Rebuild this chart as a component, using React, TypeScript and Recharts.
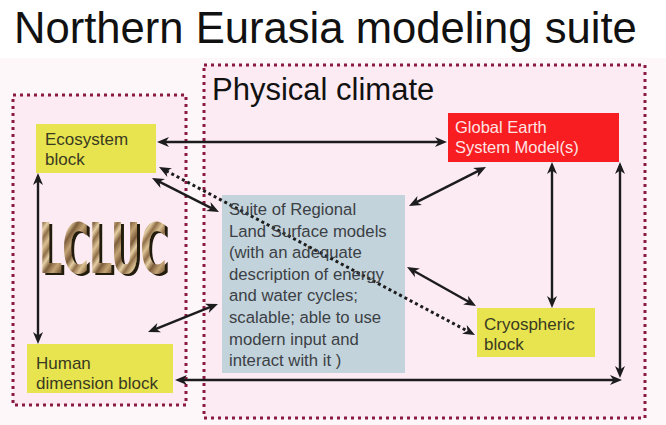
import React from 'react';
import { ScatterChart, Scatter, XAxis, YAxis, ReferenceArea, ReferenceLine } from 'recharts';

const W = 666;
const H = 425;

// dotted frames: LCLUC (left) and Physical climate (right)
const frameX1 = [13, 204];
const frameX2 = [186, 645];
const frameY1 = [95, 65];
const frameY2 = [405, 418];

// filled blocks
const blockKinds = ['yellow', 'yellow', 'red', 'blue', 'yellow'];
const blockX1 = [36, 27, 448, 222, 477];
const blockX2 = [156, 173, 619, 405, 595];
const blockY1 = [124, 344, 113, 195, 308];
const blockY2 = [173, 393, 162, 373, 357];

// arrows, both ends headed
const arrowX1 = [447, 38, 152, 218, 486, 407, 552, 620, 175, 159];
const arrowY1 = [142, 173, 178, 304, 167, 267, 162, 162, 380, 167];
const arrowX2 = [157, 38, 219, 148, 409, 476, 552, 620, 622, 475];
const arrowY2 = [142, 344, 212, 332, 206, 306, 308, 378, 380, 335];
const arrowDotted = [false, false, false, false, false, false, false, false, false, true];

// texts
const labelKinds = ['title', 'frame', 'yellow', 'yellow', 'red', 'blue', 'yellow', 'lcluc'];
const labelLines = [
  ['Northern Eurasia modeling suite'],
  ['Physical climate'],
  ['Ecosystem', 'block'],
  ['Human', 'dimension block'],
  ['Global Earth', 'System Model(s)'],
  [
    'Suite of Regional',
    'Land Surface models',
    '(with an adequate',
    'description of energy',
    'and water cycles;',
    'scalable; able to use',
    'modern input and',
    'interact with it )',
  ],
  ['Cryospheric', 'block'],
  ['LCLUC'],
];
const labelX = [14, 212, 45, 36, 455, 229, 484, 39];
const labelY = [43, 100, 145, 369, 133, 215, 330, 273];

const FONT = '"Liberation Sans", Arial, Helvetica, sans-serif';

const blockFill: Record<string, string> = {
  yellow: '#e7e44f',
  red: '#f81d20',
  blue: '#c2d3dc',
};

const textStyle: Record<string, { size: number; lh: number; color: string }> = {
  title: { size: 43.6, lh: 0, color: '#111' },
  frame: { size: 31, lh: 0, color: '#111' },
  yellow: { size: 17, lh: 20, color: '#3a3a22' },
  red: { size: 16.5, lh: 20, color: '#ffe4e4' },
  blue: { size: 16.7, lh: 21.6, color: '#3c3f44' },
};

const labels = labelLines.map((lines, i) => ({
  x: labelX[i],
  y: labelY[i],
  lines,
  kind: labelKinds[i],
}));

function arrowHead(tx: number, ty: number, ux: number, uy: number, color: string) {
  const L = 12;
  const hw = 5;
  const notch = 3.5;
  const bx = tx - ux * L;
  const by = ty - uy * L;
  const nx = -uy;
  const ny = ux;
  const mx = tx - ux * (L - notch);
  const my = ty - uy * (L - notch);
  const pts = [
    [tx, ty],
    [bx + nx * hw, by + ny * hw],
    [mx, my],
    [bx - nx * hw, by - ny * hw],
  ]
    .map((p) => p.join(','))
    .join(' ');
  return <polygon points={pts} fill={color} />;
}

function Arrow(props: any) {
  const { x1, y1, x2, y2, dotted } = props;
  const dx = x2 - x1;
  const dy = y2 - y1;
  const len = Math.hypot(dx, dy) || 1;
  const ux = dx / len;
  const uy = dy / len;
  const cut = 8;
  const color = '#1c1c1c';
  return (
    <g>
      <line
        x1={x1 + ux * cut}
        y1={y1 + uy * cut}
        x2={x2 - ux * cut}
        y2={y2 - uy * cut}
        stroke={color}
        strokeWidth={dotted ? 3 : 2.4}
        strokeDasharray={dotted ? '3 3' : undefined}
      />
      {arrowHead(x1, y1, -ux, -uy, color)}
      {arrowHead(x2, y2, ux, uy, color)}
    </g>
  );
}

function Label(props: any) {
  const { cx, cy, payload } = props;
  if (payload.kind === 'lcluc') {
    return (
      <g>
        <defs>
          <linearGradient id="wood" x1="0" y1="0" x2="18" y2="12" gradientUnits="userSpaceOnUse" spreadMethod="reflect">
            <stop offset="0" stopColor="#dcc193" />
            <stop offset="0.25" stopColor="#8f6e48" />
            <stop offset="0.45" stopColor="#e6cfa4" />
            <stop offset="0.7" stopColor="#7c5c3a" />
            <stop offset="1" stopColor="#c4a475" />
          </linearGradient>
          <filter id="lshadow" x="-10%" y="-10%" width="130%" height="130%">
            <feOffset in="SourceAlpha" dx="3" dy="2" result="off" />
            <feFlood floodColor="#241a10" />
            <feComposite in2="off" operator="in" result="sh" />
            <feMerge>
              <feMergeNode in="sh" />
              <feMergeNode in="SourceGraphic" />
            </feMerge>
          </filter>
        </defs>
        <text
          x={cx}
          y={cy}
          fontFamily='"DejaVu Sans Condensed", "DejaVu Sans", sans-serif'
          fontWeight="bold"
          fontSize={70}
          textLength={128}
          lengthAdjust="spacingAndGlyphs"
          fill="url(#wood)"
          filter="url(#lshadow)"
        >
          {payload.lines[0]}
        </text>
      </g>
    );
  }
  const st = textStyle[payload.kind];
  return (
    <text x={cx} y={cy} fontFamily={FONT} fontSize={st.size} fill={st.color}>
      {payload.lines.map((l: string, i: number) => (
        <tspan key={i} x={cx} dy={i ? st.lh : 0}>
          {l}
        </tspan>
      ))}
    </text>
  );
}

export default function App() {
  return (
    <div style={{ position: 'absolute', left: 0, top: 0 }}>
      <ScatterChart width={W} height={H} margin={{ top: 0, right: 0, bottom: 0, left: 0 }} style={{ background: '#fff' }}>
        <XAxis type="number" dataKey="x" domain={[0, W]} hide />
        <YAxis type="number" dataKey="y" domain={[0, H]} reversed hide />
        <ReferenceArea x1={0} x2={W} y1={58} y2={H} fill="#fef7fa" fillOpacity={1} />
        {frameX1.map((x, i) => (
          <ReferenceArea
            key={'f' + i}
            x1={x}
            x2={frameX2[i]}
            y1={frameY1[i]}
            y2={frameY2[i]}
            fill="#fcebf3"
            fillOpacity={1}
            stroke="#8a1a42"
            strokeWidth={3}
            strokeDasharray="3 4"
          />
        ))}
        {blockX1.map((x, i) => (
          <ReferenceArea
            key={'b' + i}
            x1={x}
            x2={blockX2[i]}
            y1={blockY1[i]}
            y2={blockY2[i]}
            fill={blockFill[blockKinds[i]]}
            fillOpacity={1}
          />
        ))}
        {arrowX1.map((x, i) => (
          <ReferenceLine
            key={'a' + i}
            segment={[
              { x, y: arrowY1[i] },
              { x: arrowX2[i], y: arrowY2[i] },
            ]}
            shape={(p: any) => <Arrow {...p} dotted={arrowDotted[i]} />}
          />
        ))}
        <Scatter data={labels} dataKey="y" isAnimationActive={false} shape={(p: any) => <Label {...p} />} />
      </ScatterChart>
    </div>
  );
}
